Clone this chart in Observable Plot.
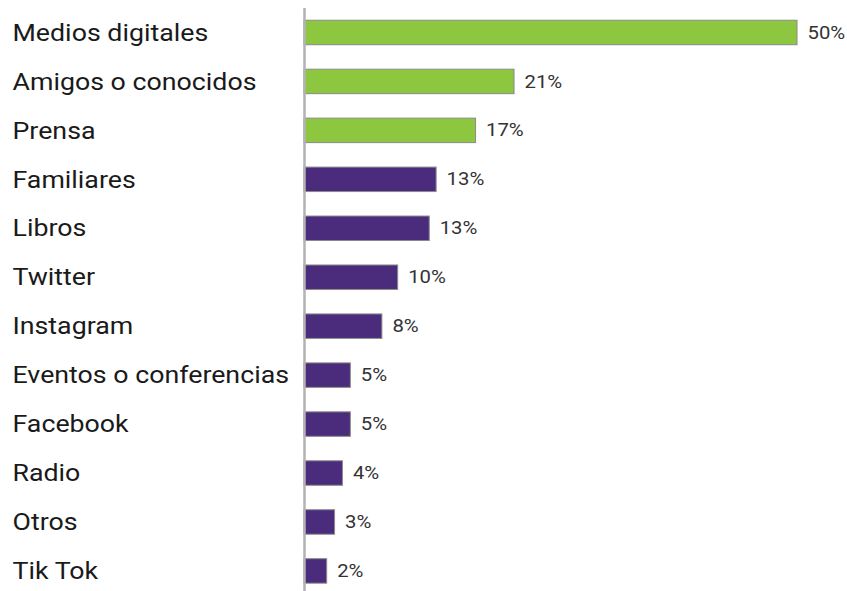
<!DOCTYPE html>
<html>
<head>
<meta charset="utf-8">
<script src="https://cdn.jsdelivr.net/npm/d3@7"></script>
<script src="https://cdn.jsdelivr.net/npm/@observablehq/plot@0.6"></script>
<style>
  html, body { margin: 0; padding: 0; background: #fff; }
  #chart svg { display: block; }
</style>
</head>
<body>
<div id="chart"></div>
<script>
const categories = ["Medios digitales", "Amigos o conocidos", "Prensa", "Familiares", "Libros", "Twitter", "Instagram", "Eventos o conferencias", "Facebook", "Radio", "Otros", "Tik Tok"];
const values = [50, 21.3, 17.4, 13.4, 12.7, 9.5, 7.9, 4.7, 4.7, 3.9, 3.1, 2.3];
const labels = ["50%", "21%", "17%", "13%", "13%", "10%", "8%", "5%", "5%", "4%", "3%", "2%"];
const groups = ["top", "top", "top", "rest", "rest", "rest", "rest", "rest", "rest", "rest", "rest", "rest"];

const data = categories.map((c, i) => ({cat: c, value: values[i], label: labels[i], group: groups[i]}));

const chart = Plot.plot({
  width: 847,
  height: 591,
  marginLeft: 304,
  marginRight: 0,
  marginTop: 8,
  marginBottom: 0,
  style: {fontFamily: "Roboto, sans-serif", background: "#fff"},
  x: {domain: [0, 50], range: [304, 797], axis: null},
  y: {domain: categories, range: [8, 595.4], paddingInner: 0.5, paddingOuter: 0.25, round: false, axis: null},
  color: {domain: ["top", "rest"], range: ["#8dc63f", "#4b2c7c"]},
  marks: [
    Plot.barX(data, {x: "value", y: "cat", fill: "group", stroke: "#8a8a8a", strokeWidth: 1}),
    Plot.ruleX([0], {stroke: "#b3b3b3", strokeWidth: 2.5}),
    Plot.text(data, {x: "value", y: "cat", text: "label", textAnchor: "start", dx: 10, fontSize: 17.5, fill: "#333", className: "vallabel"}),
    Plot.text(data, {y: "cat", text: "cat", frameAnchor: "left", textAnchor: "start", dx: -292, fontSize: 24, fill: "#1a1a1a", className: "catlabel"})
  ]
});
// Stretch the glyphs horizontally to match the reference's wide lettering
function stretch(cls, k) {
  chart.querySelectorAll("." + cls + " text").forEach(t => {
    const tr = t.getAttribute("transform") || "";
    const x = t.getAttribute("x") || 0;
    if (tr) t.setAttribute("transform", tr + ` scale(${k},1)`);
    else t.setAttribute("transform", `translate(${x},0) scale(${k},1) translate(${-x},0)`);
  });
}
stretch("catlabel", 1.115);
stretch("vallabel", 1.16);
document.getElementById("chart").appendChild(chart);
</script>
</body>
</html>
